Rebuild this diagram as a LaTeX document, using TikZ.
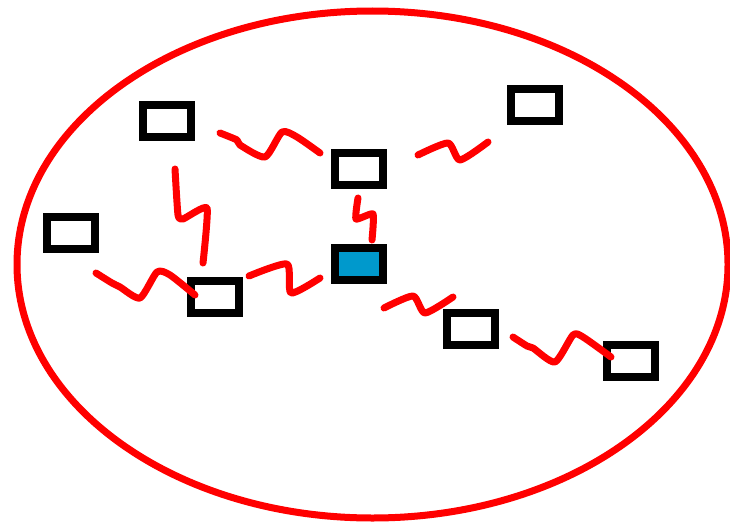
\documentclass[tikz,border=0pt]{standalone}
\begin{document}
\begin{tikzpicture}[x=1pt,y=-1pt,
  box/.style={draw=black,line width=8pt,minimum width=48pt,minimum height=32pt,inner sep=0pt,fill=white},
  wig/.style={draw=red,line width=7pt,line cap=round,line join=round}]
\useasboundingbox (0,0) rectangle (730,527);
\draw[red,line width=7pt] (372.5,264.5) ellipse [x radius=355.5, y radius=253.5];
\node[box] (b1) at (167,121) {};
\node[box] (b2) at (359,169) {};
\node[box,fill={rgb,255:red,0;green,153;blue,204}] (bc) at (359,264) {};
\node[box] (b4) at (535,104.5) {};
\node[box] (b5) at (71,233) {};
\node[box] (b6) at (215,297) {};
\node[box] (b7) at (471,329) {};
\node[box] (b8) at (631,361) {};
% squiggles
\draw[wig] plot[smooth,tension=0.4] coordinates {(220,133) (237,140) (240,145) (265,157) (282,132) (297,137) (320,153)};
\draw[wig] plot[smooth,tension=0.3] coordinates {(175,169) (178,215) (183,219) (207,208) (203,263)};
\draw[wig] plot[smooth,tension=0.3] coordinates {(358,198) (356,219) (373,214) (372,240)};
\draw[wig] plot[smooth,tension=0.4] coordinates {(96,273) (112,283) (120,287) (140,298) (157,272) (170,275) (195,295)};
\draw[wig] plot[smooth,tension=0.4] coordinates {(249,276) (287,264) (291,293) (320,278)};
\draw[wig] plot[smooth,tension=0.4] coordinates {(418,155) (448,143) (460,160) (488,142)};
\draw[wig] plot[smooth,tension=0.4] coordinates {(384,308) (413,296) (425,313) (453,297)};
\draw[wig] plot[smooth,tension=0.4] coordinates {(513,337) (527,346) (533,348) (555,362) (573,335) (583,337) (611,357)};
\end{tikzpicture}
\end{document}
